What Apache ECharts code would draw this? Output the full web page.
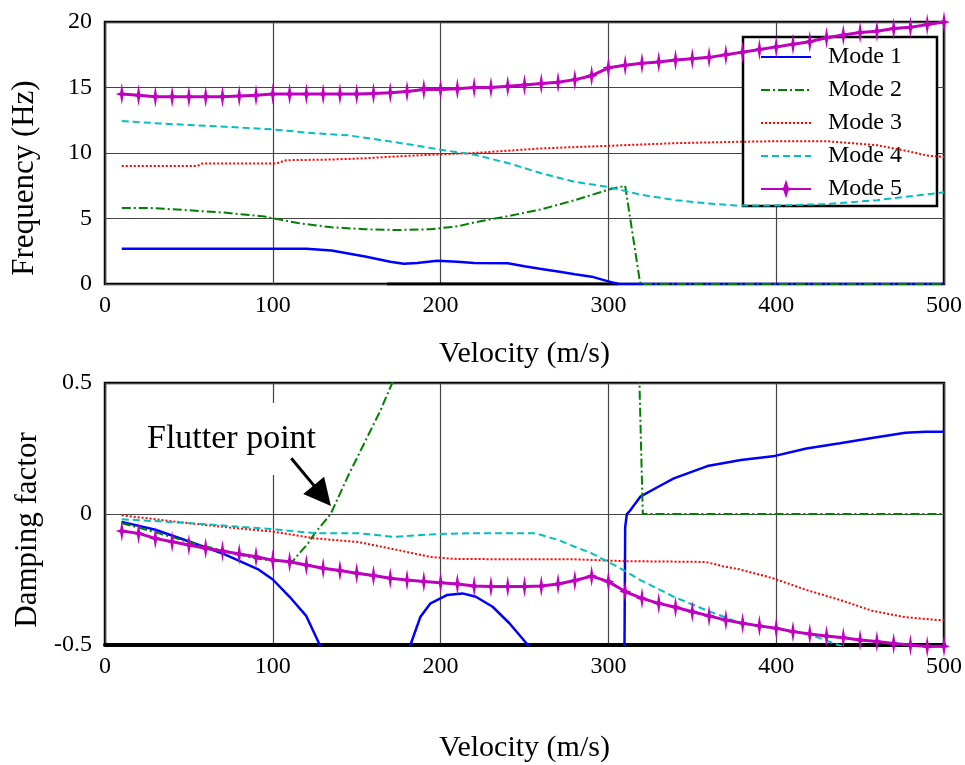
<!DOCTYPE html>
<html>
<head>
<meta charset="utf-8">
<script src="https://cdn.jsdelivr.net/npm/echarts@6/dist/echarts.min.js"></script>
<style>
  html, body { margin: 0; padding: 0; background: #fff; }
  #chart { width: 965px; height: 765px; }
</style>
</head>
<body>
<div id="chart"></div>
<script>
// velocity steps of the starred curve (Mode 5)
const velocity = [10, 20, 30, 40, 50, 60, 70, 80, 90, 100,
  110, 120, 130, 140, 150, 160, 170, 180, 190, 200,
  210, 220, 230, 240, 250, 260, 270, 280, 290, 300,
  310, 320, 330, 340, 350, 360, 370, 380, 390, 400,
  410, 420, 430, 440, 450, 460, 470, 480, 490, 500]

const freqMode5 = [14.5, 14.4, 14.3, 14.3, 14.3, 14.3, 14.3, 14.35, 14.4, 14.5,
  14.5, 14.5, 14.5, 14.5, 14.5, 14.55, 14.6, 14.7, 14.85, 14.85,
  14.9, 15.0, 15.0, 15.1, 15.2, 15.3, 15.4, 15.6, 15.9, 16.5,
  16.7, 16.85, 16.95, 17.1, 17.2, 17.3, 17.5, 17.7, 17.9, 18.1,
  18.3, 18.5, 18.8, 19.0, 19.2, 19.3, 19.5, 19.6, 19.8, 20.0]

const dampMode5 = [-0.065, -0.074, -0.093, -0.106, -0.118, -0.131, -0.141, -0.153, -0.163, -0.176,
  -0.182, -0.195, -0.207, -0.216, -0.226, -0.235, -0.245, -0.252, -0.258, -0.262,
  -0.267, -0.275, -0.277, -0.277, -0.277, -0.275, -0.267, -0.254, -0.237, -0.258,
  -0.296, -0.322, -0.341, -0.356, -0.373, -0.389, -0.405, -0.417, -0.427, -0.436,
  -0.449, -0.458, -0.466, -0.472, -0.481, -0.487, -0.494, -0.5, -0.506, -0.505]

// [velocity, frequency]
const freqMode1 = [[10, 2.7], [120, 2.7], [135, 2.55], [155, 2.1], [170, 1.7], [178, 1.55], [186, 1.6],
  [198, 1.78], [210, 1.7], [220, 1.6], [240, 1.58], [250, 1.35], [260, 1.15], [270, 0.95],
  [280, 0.75], [290, 0.56], [300, 0.2], [306, 0], [500, 0]]
const freqMode2 = [[10, 5.8], [27, 5.8], [47, 5.65], [71, 5.45], [95, 5.15], [105, 4.9], [115, 4.65],
  [135, 4.33], [155, 4.18], [174, 4.12], [194, 4.18], [210, 4.4], [220, 4.7], [241, 5.2],
  [260, 5.7], [280, 6.4], [300, 7.2], [310, 7.5], [319, 0], [500, 0]]
const freqMode3 = [[10, 9.0], [55, 9.0], [58, 9.2], [102, 9.2], [108, 9.45], [135, 9.5], [155, 9.6],
  [175, 9.75], [200, 9.9], [220, 10.0], [260, 10.35], [300, 10.55], [340, 10.75], [375, 10.85],
  [400, 10.9], [430, 10.9], [460, 10.6], [480, 10.1], [490, 9.8], [500, 9.7]]
const freqMode4 = [[10, 12.45], [33, 12.25], [72, 12.0], [100, 11.8], [125, 11.5], [145, 11.35],
  [164, 11.0], [184, 10.6], [200, 10.25], [221, 9.85], [241, 9.2], [260, 8.45], [280, 7.8],
  [300, 7.4], [320, 6.8], [340, 6.4], [359, 6.15], [375, 6.0], [400, 6.0], [430, 6.1],
  [460, 6.4], [480, 6.7], [500, 7.0]]
const freqBase = [[168, 0], [306, 0]]

// [velocity, damping factor]
const dampMode1 = [[10, -0.03], [30, -0.06], [51, -0.107], [71, -0.153], [91, -0.21], [100, -0.25],
  [110, -0.316], [120, -0.39], [128, -0.5], [135, -0.65], [175, -0.65], [182, -0.5],
  [188, -0.392], [194, -0.341], [204, -0.309], [213, -0.303], [221, -0.316], [231, -0.354],
  [241, -0.417], [252, -0.5], [258, -0.65], [300, -0.65], [309.5, -0.6], [310, -0.05],
  [311, 0], [312.5, 0.01], [319, 0.066], [330, 0.105], [339, 0.136], [359, 0.183],
  [379, 0.206], [398, 0.22], [418, 0.25], [438, 0.27], [457, 0.29], [477, 0.31],
  [489, 0.314], [500, 0.314]]
const dampMode2 = [[10, -0.035], [30, -0.07], [50, -0.107], [70, -0.14], [90, -0.17], [100, -0.178],
  [112, -0.18], [115, -0.156], [121, -0.112], [125, -0.074], [130, -0.035], [134.5, 0],
  [144.6, 0.142], [154.5, 0.27], [164.3, 0.397], [171.2, 0.501], [180, 0.65], [200, 0.9],
  [300, 0.9], [318, 0.56], [318.5, 0.5], [320.5, 0], [500, 0]]
const dampMode3 = [[10, -0.005], [30, -0.02], [51, -0.036], [75, -0.052], [100, -0.067], [125, -0.093],
  [151, -0.107], [174, -0.137], [194, -0.164], [210, -0.172], [280, -0.173], [310, -0.18],
  [358, -0.183], [368, -0.199], [378, -0.211], [398, -0.245], [418, -0.29], [438, -0.328],
  [457, -0.369], [477, -0.394], [497, -0.405], [500, -0.405]]
const dampMode4 = [[10, -0.02], [51, -0.035], [100, -0.058], [125, -0.073], [151, -0.073], [172, -0.087],
  [200, -0.076], [222, -0.073], [256, -0.073], [260, -0.08], [270, -0.099], [280, -0.125],
  [290, -0.15], [300, -0.183], [309, -0.214], [319, -0.252], [339, -0.316], [359, -0.369],
  [379, -0.417], [398, -0.436], [418, -0.455], [437, -0.5], [460, -0.55], [500, -0.6]]

// arrow of the flutter point note, from text to the crossing
const flutterArrow = [[111, 0.213], [129.5, 0.07]]

const modeNames = ['Mode 1', 'Mode 2', 'Mode 3', 'Mode 4', 'Mode 5']
const colors = ['#0000ff', '#008000', '#ff0000', '#00bfbf', '#bf00bf']
const dashes = ['solid', [9, 3, 2, 3], [2, 2], [7, 4], 'solid']
const starPath = 'path://M0,-11L1.6,-1.6L6,0L1.6,1.6L0,11L-1.6,1.6L-6,0L-1.6,-1.6Z'
const serif = '"Liberation Serif", "Times New Roman", serif'

const chart = echarts.init(document.getElementById('chart'))

function zip (xs, ys) {
  return xs.map((x, i) => [x, ys[i]])
}

function modeSeries (idx, data, gridIdx) {
  const s = {
    name: modeNames[idx],
    type: 'line',
    xAxisIndex: gridIdx,
    yAxisIndex: gridIdx,
    data: data,
    color: colors[idx],
    showSymbol: false,
    symbol: 'none',
    clip: true,
    lineStyle: { color: colors[idx], width: idx === 0 ? 2.5 : 2, type: dashes[idx] },
    z: 2 + idx
  }
  if (idx === 4) {
    s.symbol = starPath
    s.showSymbol = true
    s.symbolSize = [12, 22]
    s.symbolKeepAspect = false
    s.itemStyle = { color: colors[4] }
    s.lineStyle.width = 3
    s.clip = false
  }
  return s
}

const xAxisBase = {
  type: 'value',
  min: 0,
  max: 500,
  interval: 100,
  axisLine: { show: false },
  axisTick: { show: false },
  splitLine: { show: true, lineStyle: { color: '#444', width: 1.2 } },
  axisLabel: { color: '#000', fontFamily: serif, fontSize: 24, margin: 10 },
  name: 'Velocity (m/s)',
  nameLocation: 'middle',
  nameTextStyle: { color: '#000', fontFamily: serif, fontSize: 30 }
}

const option = {
  animation: false,
  backgroundColor: '#fff',
  grid: [
    { left: 105, top: 22, width: 847, height: 262, show: true, borderColor: '#000', borderWidth: 2.5, backgroundColor: '#fff' },
    { left: 105, top: 383, width: 847, height: 262, show: true, borderColor: '#000', borderWidth: 2.5, backgroundColor: '#fff' }
  ],
  xAxis: [
    Object.assign({}, xAxisBase, { gridIndex: 0, nameGap: 55 }),
    Object.assign({}, xAxisBase, { gridIndex: 1, nameGap: 88,
      axisLine: { show: true, onZero: false, lineStyle: { color: '#000', width: 4 } } })
  ],
  yAxis: [
    {
      gridIndex: 0, type: 'value', min: 0, max: 20, interval: 5,
      axisLine: { show: false }, axisTick: { show: false },
      splitLine: { show: true, lineStyle: { color: '#444', width: 1.2 } },
      axisLabel: { color: '#000', fontFamily: serif, fontSize: 24, margin: 13 }
    },
    {
      gridIndex: 1, type: 'value', min: -0.5, max: 0.5, interval: 0.5,
      axisLine: { show: false }, axisTick: { show: false },
      splitLine: { show: true, lineStyle: { color: '#444', width: 1.2 } },
      axisLabel: { color: '#000', fontFamily: serif, fontSize: 24, margin: 13 }
    }
  ],
  legend: {
    data: modeNames.map((n, i) => (i < 4 ? { name: n, itemStyle: { opacity: 0 } } : n)),
    orient: 'vertical',
    left: 743,
    top: 37,
    backgroundColor: '#fff',
    borderColor: '#000',
    borderWidth: 2.5,
    padding: [8, 35, 5, 17],
    itemWidth: 50,
    itemHeight: 24,
    itemGap: 9,
    textStyle: { color: '#000', fontFamily: serif, fontSize: 24, lineHeight: 24, padding: [0, 0, 0, 12] }
  },
  graphic: [
    {
      type: 'text', x: 25, y: 178, rotation: Math.PI / 2, z: 10,
      style: { text: 'Frequency (Hz)', font: '31px ' + serif, fill: '#000', align: 'center', verticalAlign: 'middle' }
    },
    {
      type: 'text', x: 28, y: 530, rotation: Math.PI / 2, z: 10,
      style: { text: 'Damping factor', font: '31px ' + serif, fill: '#000', align: 'center', verticalAlign: 'middle' }
    },
    {
      type: 'text', x: 141, y: 439, z: 1,
      style: {
        text: 'Flutter point', font: '34px ' + serif, fill: '#000',
        align: 'left', verticalAlign: 'middle', backgroundColor: '#fff', padding: [19, 6]
      }
    }
  ],
  series: [
    modeSeries(0, freqMode1, 0),
    modeSeries(1, freqMode2, 0),
    modeSeries(2, freqMode3, 0),
    modeSeries(3, freqMode4, 0),
    modeSeries(4, zip(velocity, freqMode5), 0),
    {
      type: 'line', xAxisIndex: 0, yAxisIndex: 0, data: freqBase, symbol: 'none',
      lineStyle: { color: '#000', width: 3 }, z: 1
    },
    modeSeries(0, dampMode1, 1),
    Object.assign(modeSeries(1, dampMode2, 1), {
      markLine: {
        silent: true,
        symbol: ['none', 'triangle'],
        symbolSize: 27,
        label: { show: false },
        itemStyle: { color: '#000' },
        lineStyle: { color: '#000', width: 3, type: 'solid' },
        data: [[{ coord: flutterArrow[0] }, { coord: flutterArrow[1] }]]
      }
    }),
    modeSeries(2, dampMode3, 1),
    modeSeries(3, dampMode4, 1),
    modeSeries(4, zip(velocity, dampMode5), 1)
  ]
}

chart.setOption(option)
</script>
</body>
</html>
